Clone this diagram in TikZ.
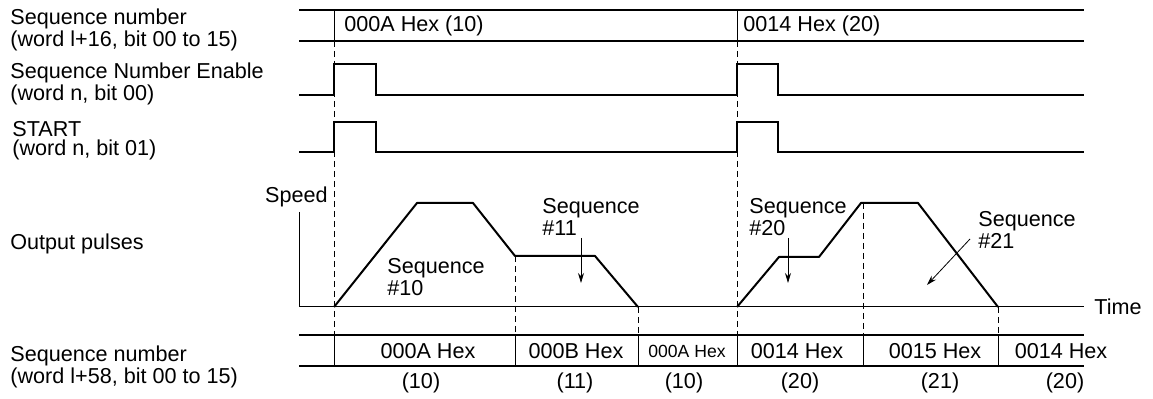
\documentclass[tikz,border=0pt]{standalone}
\usepackage{fontspec}
\setmainfont{Liberation Sans}
\usetikzlibrary{arrows.meta}

\begin{document}
\begin{tikzpicture}[x=0.5pt,y=-0.5pt,
    sig/.style={line width=1pt},
    divider/.style={line width=0.5pt},
    guide/.style={line width=0.5pt, dash pattern=on 3pt off 2pt},
    pointer/.style={line width=0.4pt, -{Stealth[length=5pt,width=3pt]}},
    lbl/.style={font=\fontsize{10.8}{9.6}\selectfont, align=left, inner sep=0pt}]
    \useasboundingbox (0,0) rectangle (1153,399);

    % row labels
    \node[lbl, anchor=west] (seqin)   at (10,30)  {Sequence number\\(word l+16, bit 00 to 15)};
    \node[lbl, anchor=west] (enable)  at (10,84)  {Sequence Number Enable\\(word n, bit 00)};
    \node[lbl, anchor=west] (start)   at (12,141) {START\\(word n, bit 01)};
    \node[lbl, anchor=west] (pulses)  at (10,244) {Output pulses};
    \node[lbl, anchor=west] (seqout)  at (10,367) {Sequence number\\(word l+58, bit 00 to 15)};

    % dashed guides
    \draw[guide] (334,41) -- (334,335);
    \draw[guide] (737,41) -- (737,335);
    \draw[guide] (515,256) -- (515,335);
    \draw[guide] (638,307) -- (638,335);
    \draw[guide] (863,203) -- (863,335);
    \draw[guide] (998,307) -- (998,335);

    % sequence number input bus
    \draw[sig] (299,10) -- (1084,10);
    \draw[sig] (299,41) -- (1084,41);
    \foreach \x in {334,737}
        \draw[divider] (\x,10) -- (\x,41);
    \node[lbl, anchor=west] (in10) at (344,25.5) {000A Hex (10)};
    \node[lbl, anchor=west] (in20) at (743,25.5) {0014 Hex (20)};

    % enable and start pulses
    \draw[sig] (299,95) -- (334,95) -- (334,64) -- (376,64) -- (376,95) -- (737,95)
        -- (737,64) -- (778,64) -- (778,95) -- (1084,95);
    \draw[sig] (299,152) -- (334,152) -- (334,122) -- (376,122) -- (376,152) -- (737,152)
        -- (737,122) -- (778,122) -- (778,152) -- (1084,152);

    % speed axes
    \draw[divider] (299,212) -- (299,307) -- (1084,307);
    \node[lbl, anchor=east] (speed) at (328,197) {Speed};
    \node[lbl, anchor=west] (time) at (1094,307) {Time};

    % speed profiles
    \draw[sig, line join=round] (334,307) -- (417,203) -- (473,203) -- (515,256)
        -- (595,256) -- (638,307);
    \draw[sig, line join=round] (737,307) -- (779,257) -- (819,257) -- (861,203)
        -- (918,203) -- (998,307);

    \node[lbl, anchor=west] (s10) at (387,277) {Sequence\\\#10};
    \node[lbl, anchor=west] (s11) at (542,217) {Sequence\\\#11};
    \node[lbl, anchor=west] (s20) at (749,217) {Sequence\\\#20};
    \node[lbl, anchor=west] (s21) at (978,230) {Sequence\\\#21};
    \coordinate (t11) at (581,283);
    \coordinate (t20) at (788,283);
    \coordinate (t21) at (927,285);
    \draw[pointer] (581,238) -- (t11);
    \draw[pointer] (788,238) -- (t20);
    \draw[pointer] (970,239) -- (t21);

    % sequence number output bus
    \draw[sig] (299,335) -- (1084,335);
    \draw[sig] (299,366) -- (1084,366);
    \foreach \x in {334,515,638,737,863,998}
        \draw[divider] (\x,335) -- (\x,366);
    \foreach \x/\t in {428/000A Hex, 576/000B Hex, 797/0014 Hex, 935/0015 Hex, 1061/0014 Hex}
        \node[lbl] (out\x) at (\x,351) {\t};
    \node[lbl, font=\fontsize{8.8}{9.6}\selectfont] (out687) at (687,351) {000A Hex};
    \foreach \x/\n in {421/10, 575/11, 684/10, 800/20, 940/21, 1065/20}
        \node[lbl] (num\x) at (\x,383) {(\n)};
\end{tikzpicture}
\end{document}
